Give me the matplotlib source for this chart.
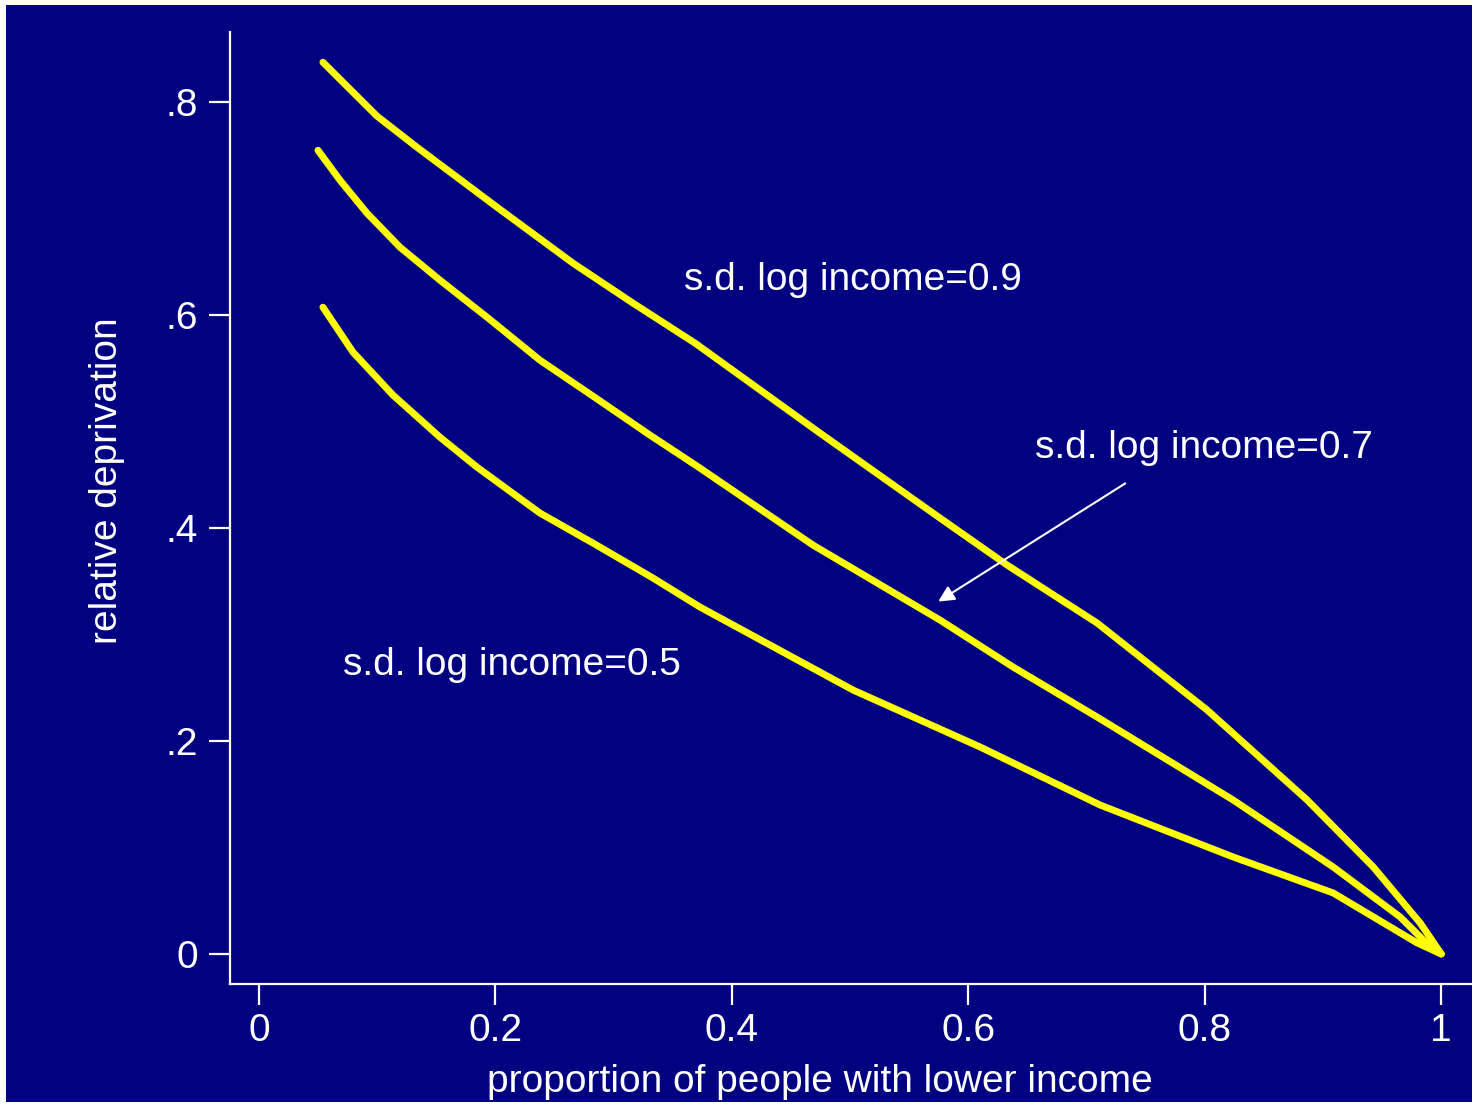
import matplotlib
matplotlib.use("Agg")
import matplotlib.pyplot as plt
from matplotlib.patches import Rectangle

plt.rcParams['font.family'] = ['Liberation Sans', 'DejaVu Sans']

# Data
x_09 = [0.0541, 0.0998, 0.1337, 0.1675, 0.2014, 0.2657, 0.3164, 0.3689, 0.4746, 0.5761, 0.6328, 0.7090, 0.8020, 0.8866, 0.9425, 0.9822, 1.0]
y_09 = [0.8376, 0.7870, 0.7577, 0.7296, 0.7014, 0.6488, 0.6113, 0.5737, 0.4892, 0.4094, 0.3653, 0.3108, 0.2291, 0.1446, 0.0817, 0.0291, 0.0]

x_07 = [0.0499, 0.0685, 0.0914, 0.1193, 0.1531, 0.1929, 0.2377, 0.2826, 0.3308, 0.3706, 0.4687, 0.5761, 0.6379, 0.7090, 0.8240, 0.9086, 0.9653, 0.9932, 1.0]
y_07 = [0.7549, 0.7268, 0.6958, 0.6638, 0.6329, 0.5981, 0.5577, 0.5239, 0.4873, 0.4582, 0.3840, 0.3136, 0.2695, 0.2225, 0.1446, 0.0817, 0.0347, 0.0038, 0.0]

x_05 = [0.0541, 0.0795, 0.1134, 0.1531, 0.1844, 0.2377, 0.2826, 0.3333, 0.3731, 0.5025, 0.6100, 0.7115, 0.8240, 0.9086, 0.9797, 1.0]
y_05 = [0.6075, 0.5653, 0.5249, 0.4854, 0.4573, 0.4141, 0.3859, 0.3531, 0.3258, 0.2479, 0.1944, 0.1399, 0.0911, 0.0573, 0.0103, 0.0]

xticks = [0, 0.2, 0.4, 0.6, 0.8, 1.0]
xtick_labels = ["0", "0.2", "0.4", "0.6", "0.8", "1"]
yticks = [0, 0.2, 0.4, 0.6, 0.8]
ytick_labels = ["0", ".2", ".4", ".6", ".8"]

labels = ["s.d. log income=0.9", "s.d. log income=0.7", "s.d. log income=0.5"]

NAVY = "#000080"
YELLOW = "#FFFF00"
W, H = 1473, 1105

fig = plt.figure(figsize=(W / 100, H / 100), dpi=100, facecolor="white")
fig.patches.append(Rectangle((6 / W, 3 / H), (1472 - 6) / W, (1100 - 3) / H,
                             transform=fig.transFigure, facecolor=NAVY,
                             edgecolor="none", zorder=-10))

ax = fig.add_axes([230 / W, 121 / H, (1472 - 230) / W, 952 / H])
ax.set_zorder(5)
ax.set_facecolor("none")
ax.set_xlim(-0.0245, 1.026)
ax.set_ylim(-0.0282, 0.866)

for xs, ys in [(x_09, y_09), (x_07, y_07), (x_05, y_05)]:
    ax.plot(xs, ys, color=YELLOW, lw=5, solid_capstyle="round",
            solid_joinstyle="round")

fs = 28
ax.text(0.3596, 0.633, labels[0], color="white", fontsize=fs, va="center", ha="left")
ax.text(0.6565, 0.475, labels[1], color="white", fontsize=fs, va="center", ha="left")
ax.text(0.071, 0.271, labels[2], color="white", fontsize=fs, va="center", ha="left")
ax.annotate("", xy=(0.5745, 0.331), xytext=(0.7327, 0.442),
            arrowprops=dict(arrowstyle="-|>", color="white", lw=1.5,
                            mutation_scale=24, shrinkA=0, shrinkB=0))

for s in ["top", "right"]:
    ax.spines[s].set_visible(False)
for s in ["left", "bottom"]:
    ax.spines[s].set_color("white")
    ax.spines[s].set_linewidth(1.6)

ax.set_xticks(xticks)
ax.set_xticklabels(xtick_labels)
ax.set_yticks(yticks)
ax.set_yticklabels(ytick_labels)
ax.tick_params(axis="both", colors="white", labelsize=fs, length=15, width=1.6,
               direction="out")
ax.tick_params(axis="x", pad=6)
ax.tick_params(axis="y", pad=8)

ax.set_xlabel("proportion of people with lower income", color="white", fontsize=fs)
ax.xaxis.set_label_coords(0.475, -0.103)
ax.xaxis.label.set_va("center")
ax.set_ylabel("relative deprivation", color="white", fontsize=fs)
ax.yaxis.set_label_coords(-0.099, 0.529)
ax.yaxis.label.set_va("center")

fig.savefig("out.png", dpi=100, facecolor=fig.get_facecolor())
